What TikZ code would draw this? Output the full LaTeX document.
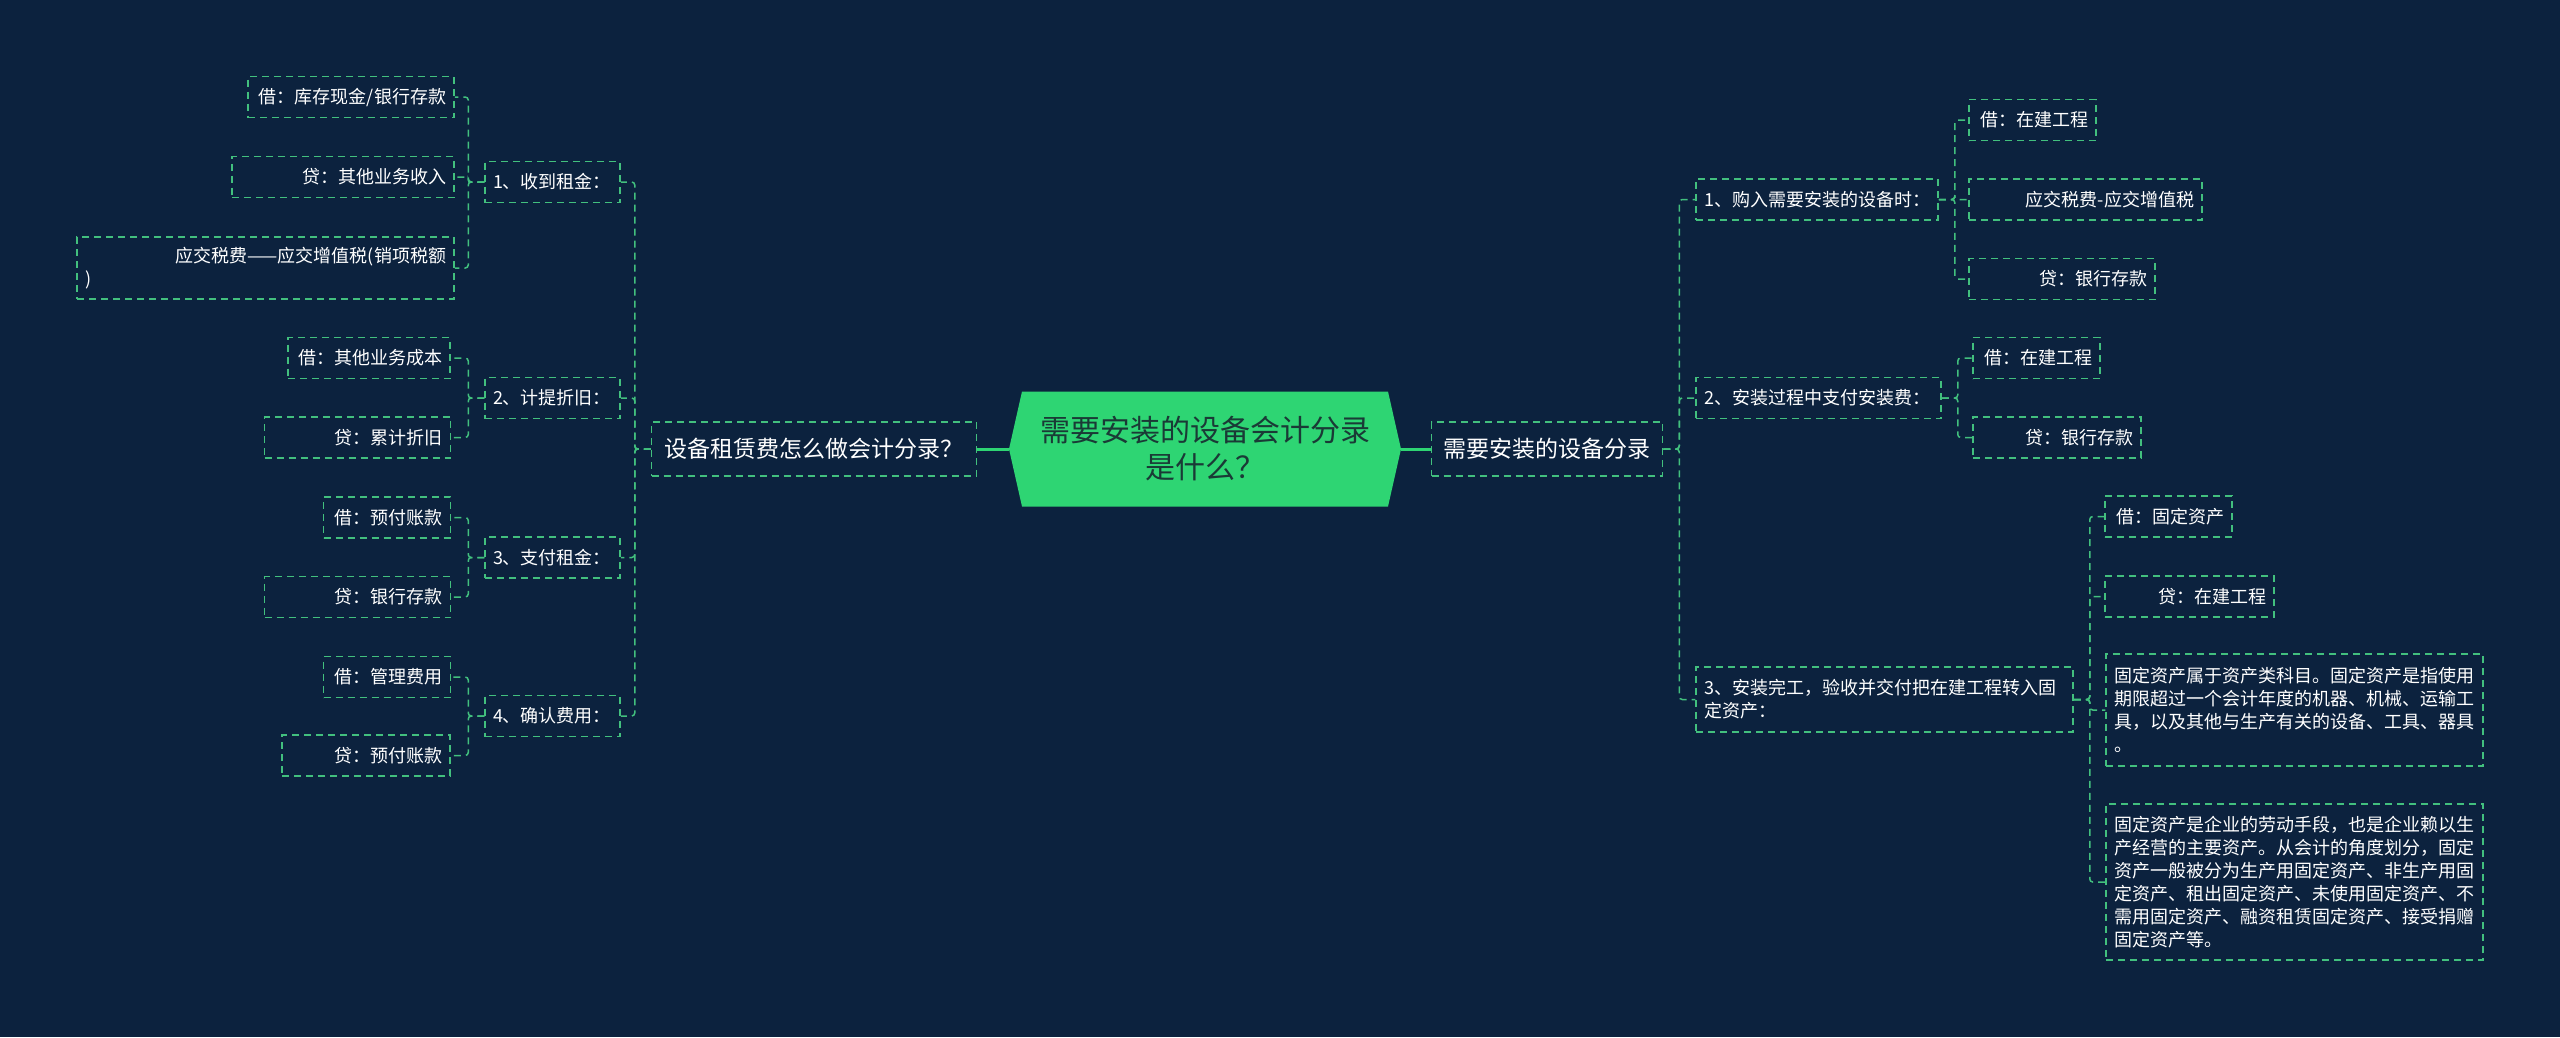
\documentclass[tikz,border=0pt]{standalone}
\usepackage{fontspec}
\setmainfont{Noto Sans CJK SC}
\definecolor{mapbg}{HTML}{0C223E}
\definecolor{mapgreen}{HTML}{2ED573}
\definecolor{mapline}{HTML}{42C07E}
\definecolor{mapink}{HTML}{1A3A36}
\def\spinegap{16}

\begin{document}
\begin{tikzpicture}[x=1pt, y=-1pt,
    box/.style={draw=mapline, line width=1.5pt, dash pattern=on 7pt off 5pt,
      text=white, font=\fontsize{18pt}{23pt}\selectfont,
      inner xsep=8pt, inner ysep=0pt, minimum height=41pt},
    leaf/.style={box, align=right},
    note/.style={box, align=left},
    topic/.style={box, align=center, inner xsep=10pt, minimum height=54pt,
      font=\fontsize{23pt}{28pt}\selectfont},
    hub/.style={minimum width=392pt, minimum height=115pt, inner sep=0pt,
      align=center, text=mapink, font=\fontsize{30pt}{37pt}\selectfont,
      path picture={\fill[mapgreen] (path picture bounding box.west)
        -- ([xshift=13pt]path picture bounding box.north west)
        -- ([xshift=-13pt]path picture bounding box.north east)
        -- (path picture bounding box.east)
        -- ([xshift=-13pt]path picture bounding box.south east)
        -- ([xshift=13pt]path picture bounding box.south west) -- cycle;}},
    link/.style={draw=mapline, line width=1.5pt, dash pattern=on 7pt off 5pt,
      rounded corners=3pt},
    trunk/.style={draw=mapgreen, line width=3pt}]
  \fill[mapbg] (0,0) rectangle (2560,1037);
  \useasboundingbox (0,0) rectangle (2560,1037);

  % centre
  \node[hub] (root) at (1205,449) {需要安装的设备会计分录\\是什么？};
  \node[topic, minimum width=325pt] (ml) at (814,449) {设备租赁费怎么做会计分录？};
  \node[topic, minimum width=231pt] (mr) at (1547,449) {需要安装的设备分录};

  % left branch
  \node[note, text width=119pt] (s1) at (552.5,182) {1、收到租金：};
  \node[note, text width=119pt] (s2) at (552.5,398) {2、计提折旧：};
  \node[note, text width=119pt] (s3) at (552.5,557.5) {3、支付租金：};
  \node[note, text width=119pt] (s4) at (552.5,716) {4、确认费用：};

  \node[leaf, text width=190pt] (la1) at (351,97) {借：库存现金/银行存款};
  \node[leaf, text width=206pt] (la2) at (343,177) {贷：其他业务收入};
  \node[note, text width=361pt, minimum height=62pt] (la3) at (265.5,268)
    {\hfill 应交税费——应交增值税(销项税额\\)};
  \node[leaf, text width=146pt] (lb1) at (369,358) {借：其他业务成本};
  \node[leaf, text width=170pt] (lb2) at (357.5,437.5) {贷：累计折旧};
  \node[leaf, text width=111pt] (lc1) at (387,517.5) {借：预付账款};
  \node[leaf, text width=170pt] (lc2) at (357.5,597) {贷：银行存款};
  \node[leaf, text width=111pt] (ld1) at (387,677) {借：管理费用};
  \node[leaf, text width=152pt] (ld2) at (366,755.5) {贷：预付账款};

  % right branch
  \node[note, text width=226pt] (r1) at (1817,199.5) {1、购入需要安装的设备时：};
  \node[note, text width=229pt] (r2) at (1818.5,398) {2、安装过程中支付安装费：};
  \node[note, text width=361pt, minimum height=65pt] (r3) at (1884.5,699.5)
    {3、安装完工，验收并交付把在建工程转入固\\定资产：};

  \node[leaf, text width=111pt] (ra1) at (2032.5,120) {借：在建工程};
  \node[leaf, text width=217pt] (ra2) at (2085.5,199.5) {应交税费-应交增值税};
  \node[leaf, text width=170pt] (ra3) at (2062,279) {贷：银行存款};
  \node[leaf, text width=111pt] (rb1) at (2036.5,358) {借：在建工程};
  \node[leaf, text width=152pt] (rb2) at (2057,437.5) {贷：银行存款};
  \node[leaf, text width=111pt] (rc1) at (2168.5,516.5) {借：固定资产};
  \node[leaf, text width=153pt] (rc2) at (2189.5,596.5) {贷：在建工程};
  \node[note, text width=361pt, minimum height=112pt] (rc3) at (2294.5,710)
    {固定资产属于资产类科目。固定资产是指使用\\期限超过一个会计年度的机器、机械、运输工\\具，以及其他与生产有关的设备、工具、器具\\。};
  \node[note, text width=361pt, minimum height=156pt] (rc4) at (2294.5,882)
    {固定资产是企业的劳动手段，也是企业赖以生\\产经营的主要资产。从会计的角度划分，固定\\资产一般被分为生产用固定资产、非生产用固\\定资产、租出固定资产、未使用固定资产、不\\需用固定资产、融资租赁固定资产、接受捐赠\\固定资产等。};

  % connectors
  \draw[trunk] (root.west) -- (ml.east);
  \draw[trunk] (root.east) -- (mr.west);
  \foreach \c in {s1,s2,s3,s4}
    \draw[link] (ml.west) -- ++(-\spinegap,0) |- (\c.east);
  \foreach \c in {la1,la2,la3}
    \draw[link] (s1.west) -- ++(-\spinegap,0) |- (\c.east);
  \foreach \c in {lb1,lb2}
    \draw[link] (s2.west) -- ++(-\spinegap,0) |- (\c.east);
  \foreach \c in {lc1,lc2}
    \draw[link] (s3.west) -- ++(-\spinegap,0) |- (\c.east);
  \foreach \c in {ld1,ld2}
    \draw[link] (s4.west) -- ++(-\spinegap,0) |- (\c.east);
  \foreach \c in {r1,r2,r3}
    \draw[link] (mr.east) -- ++(\spinegap,0) |- (\c.west);
  \foreach \c in {ra1,ra2,ra3}
    \draw[link] (r1.east) -- ++(\spinegap,0) |- (\c.west);
  \foreach \c in {rb1,rb2}
    \draw[link] (r2.east) -- ++(\spinegap,0) |- (\c.west);
  \foreach \c in {rc1,rc2,rc3,rc4}
    \draw[link] (r3.east) -- ++(\spinegap,0) |- (\c.west);
\end{tikzpicture}
\end{document}
